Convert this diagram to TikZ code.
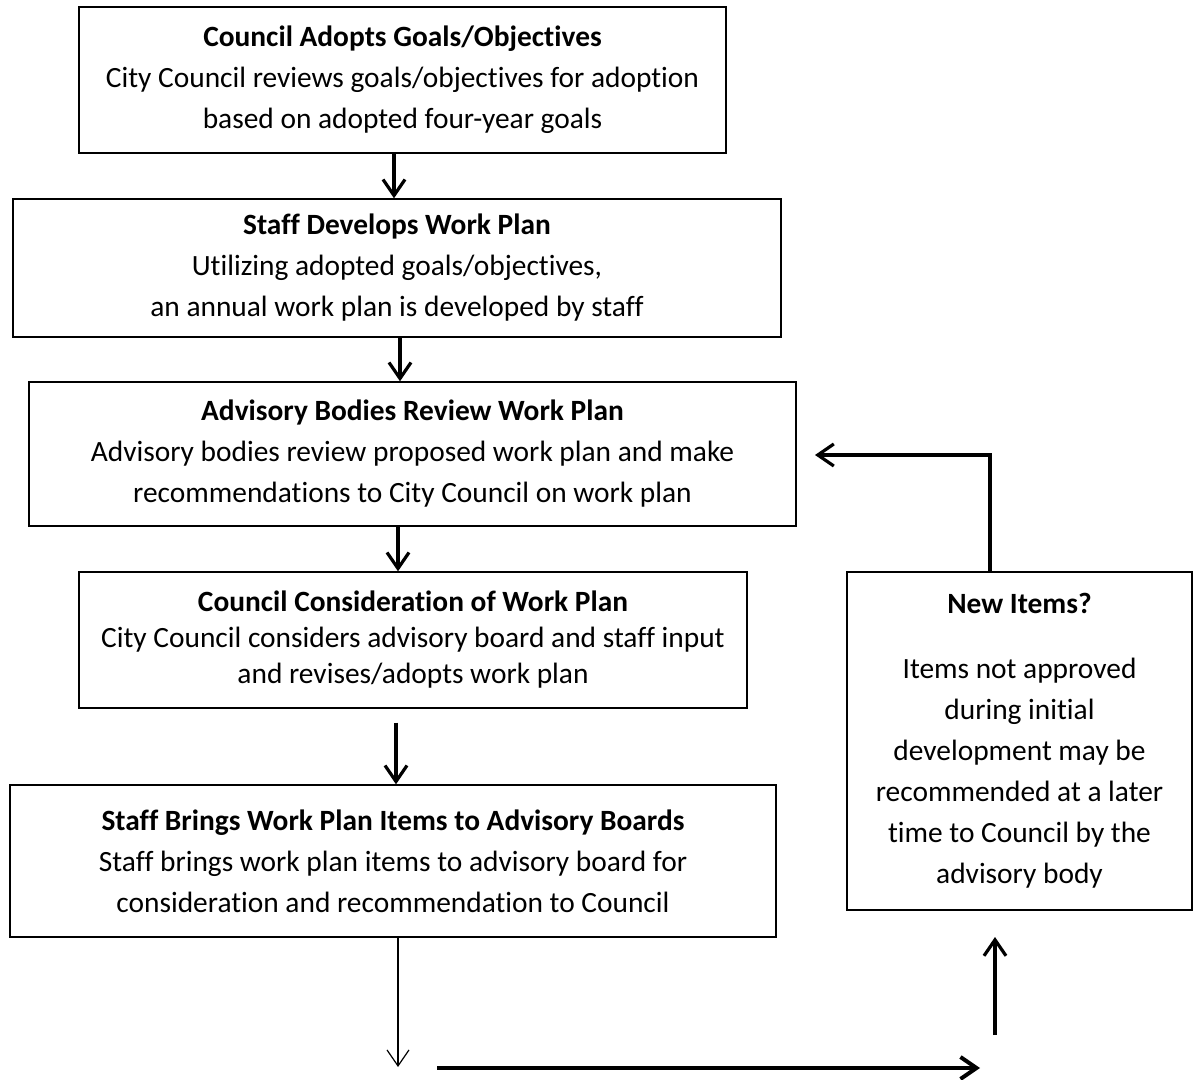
\documentclass[tikz,border=0pt]{standalone}
\usepackage{fontspec}
\setmainfont{Carlito}[Ligatures={NoCommon,NoRare}]
\usetikzlibrary{arrows.meta}

\begin{document}
\begin{tikzpicture}[x=0.5pt,y=-0.5pt,font=\fontsize{14.7}{20.5}\selectfont,
  stepbox/.style={draw,line width=0.7pt,align=center,inner sep=0pt},
  flow/.style={line width=1.6pt,-{Straight Barb[length=8pt,width=11pt]}},
  thin flow/.style={line width=0.6pt,-{Straight Barb[length=8pt,width=11pt]}}]

\useasboundingbox (0,0) rectangle (1200,1080);

\begin{scope}
\node[stepbox,minimum width=323.5pt,minimum height=73pt] (adopt) at (402.5,80)
  {\textbf{Council Adopts Goals/Objectives}\\City Council reviews goals/objectives for adoption\\based on adopted four-year goals};
\node[stepbox,minimum width=384pt,minimum height=69pt] (develop) at (397,268)
  {\textbf{Staff Develops Work Plan}\\Utilizing adopted goals/objectives,\\an annual work plan is developed by staff};
\node[stepbox,minimum width=383.5pt,minimum height=72pt] (review) at (412.5,454)
  {\textbf{Advisory Bodies Review Work Plan}\\Advisory bodies review proposed work plan and make\\recommendations to City Council on work plan};
\node[stepbox,minimum width=334pt,minimum height=68pt,font=\fontsize{14.7}{18}\selectfont] (consider) at (413,640)
  {\textbf{Council Consideration of Work Plan}\\City Council considers advisory board and staff input\\and revises/adopts work plan};
\node[stepbox,minimum width=383pt,minimum height=76pt] (brings) at (393,861)
  {\textbf{Staff Brings Work Plan Items to Advisory Boards}\\Staff brings work plan items to advisory board for\\consideration and recommendation to Council};
\node[stepbox,minimum width=172.5pt,minimum height=169pt] (newitems) at (1019.5,741)
  {\textbf{New Items?}\\[12pt]Items not approved\\during initial\\development may be\\recommended at a later\\time to Council by the\\advisory body};
\end{scope}

\coordinate (drop) at (398,1067);
\coordinate (h1) at (437,1068);
\coordinate (h2) at (980,1068);
\coordinate (u1) at (995,1035);
\coordinate (u2) at (995,937);
\coordinate (back) at (815,455);

\draw[flow] ([xshift=-4.25pt]adopt.south) -- ([xshift=-4.25pt]adopt.south |- develop.north);
\draw[flow] ([xshift=1.5pt]develop.south) -- ([xshift=1.5pt]develop.south |- review.north);
\draw[flow] ([xshift=-7.25pt]review.south) -- ([xshift=-7.25pt]review.south |- consider.north);
\draw[flow] ([xshift=-8.5pt,yshift=-7pt]consider.south) -- ([xshift=-8.5pt]consider.south |- brings.north);
\draw[thin flow] (brings.south -| drop) -- (drop);
\draw[flow,line width=2pt] (h1) -- (h2);
\draw[flow] (u1) -- (u2);
\draw[flow] ([xshift=-14.75pt]newitems.north) |- (back);
%\draw[thin flow] (brings.south) -- (drop);

\end{tikzpicture}
\end{document}
